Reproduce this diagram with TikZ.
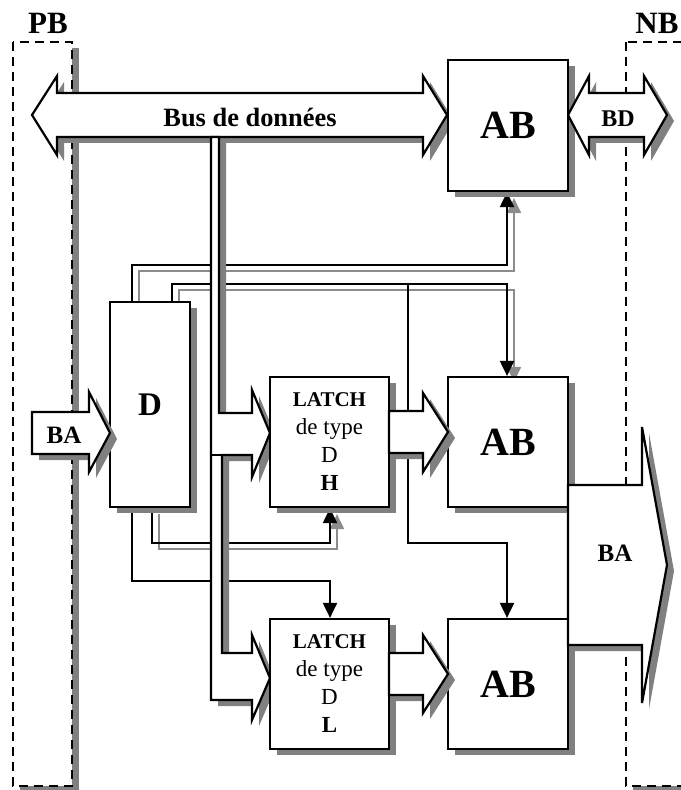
\documentclass[tikz,border=0pt]{standalone}
\usepackage{fontspec}
\setmainfont{Liberation Serif}
\usetikzlibrary{arrows.meta,shadows,backgrounds}

\tikzset{
  shdw/.style={drop shadow={shadow xshift=3.5pt,shadow yshift=-3pt,fill=gray,opacity=1}},
  blk/.style={draw,line width=1.1pt,fill=white,shdw},
  box/.style={blk,inner sep=0pt},
  zone/.style={draw,dash pattern=on 4.5pt off 3pt,line width=1.2pt,fill=white,shdw},
  wire/.style={line width=1pt,-{Triangle[width=7pt,length=7.5pt]}},
  wshd/.style={wire,gray!90,transform canvas={xshift=3.5pt,yshift=-3pt}},
  big/.style={font=\bfseries\fontsize{20}{24}\selectfont},
  lbl/.style={font=\bfseries\fontsize{12.5}{15}\selectfont}
}

\begin{document}
\begin{tikzpicture}[x=0.5pt,y=-0.5pt]
\useasboundingbox (0,0) rectangle (680,790);

% blocs
\node[box,minimum width=40pt,minimum height=102.5pt,font=\bfseries\fontsize{16.5}{20}\selectfont] (D) at (150,404.5) {D};
\node[box,minimum width=59.5pt,minimum height=65pt,align=center,font=\fontsize{11.5}{14}\selectfont] (latchH) at (329.5,442) {{\bfseries\fontsize{10.5}{14}\selectfont LATCH}\\de type\\D\\\textbf{H}};
\node[box,minimum width=59.5pt,minimum height=65pt,align=center,font=\fontsize{11.5}{14}\selectfont] (latchL) at (329.5,684) {{\bfseries\fontsize{10.5}{14}\selectfont LATCH}\\de type\\D\\\textbf{L}};
\node[box,big,minimum width=60pt,minimum height=65.5pt] (abTop) at (508,125.5) {AB};
\node[box,big,minimum width=60pt,minimum height=65pt] (abMid) at (508,442) {AB};
\node[box,big,minimum width=60pt,minimum height=65pt] (abBot) at (508,684) {AB};

% fleches larges
\draw[blk] (32,412) -- (89,412) -- (89,392) -- (110,433) -- (89,472) -- (89,454) -- (32,454) -- cycle;
\node[lbl] (baIn) at (64,435) {BA};
\draw[blk] (389,411) -- (423,411) -- (423,393) -- (448,432) -- (423,472) -- (423,453) -- (389,453) -- cycle;
\draw[blk] (389,653) -- (423,653) -- (423,635) -- (448,674) -- (423,713) -- (423,695) -- (389,695) -- cycle;
\draw[blk] (568,115) -- (589,76) -- (589,93) -- (644,93) -- (644,76) -- (667,115) -- (644,155) -- (644,137) -- (589,137) -- (589,155) -- cycle;
\node[lbl,font=\bfseries\fontsize{12}{15}\selectfont] (bd) at (618,119) {BD};
\draw[blk] (568,485) -- (642,485) -- (642,427) -- (667,565) -- (642,703) -- (642,645) -- (568,645) -- cycle;
\node[lbl] (baOut) at (615,553) {BA};

\begin{scope}[on background layer]
% zones
\draw[zone] (13,42) rectangle (72,786);
\draw[zone] (626,42) rectangle (720,786);
\node[font=\bfseries\fontsize{15.5}{18}\selectfont] (pb) at (48,23) {PB};
\node[font=\bfseries\fontsize{15.5}{18}\selectfont] (nb) at (657,23) {NB};

% commandes
\coordinate (w1) at (132,0);
\coordinate (w2) at (172,0);
\coordinate (w3) at (152,0);
\coordinate (w4) at (408,0);
\coordinate (w5) at (507,0);
\coordinate (w6) at (330,0);
\coordinate (h1) at (0,265);
\coordinate (h2) at (0,284);
\coordinate (h3) at (0,543);
\coordinate (h4) at (0,581);
\draw[wshd] (D.north -| w1) |- (h1 -| w5) -- (abTop.south -| w5);
\draw[wshd] (D.north -| w2) |- (h2 -| w5) -- (abMid.north -| w5);
\draw[wshd] (D.south -| w3) |- (h3 -| w6) -- (latchH.south -| w6);
\draw[wire] (D.north -| w1) |- (h1 -| w5) -- (abTop.south -| w5);
\draw[wire] (D.north -| w2) |- (h2 -| w5) -- (abMid.north -| w5);
\draw[wire] (h2 -| w4) |- (h3 -| w5) -- (abBot.north -| w5);
\draw[wire] (D.south -| w3) |- (h3 -| w6) -- (latchH.south -| w6);
\draw[wire] (D.south -| w1) |- (h4 -| w6) -- (latchL.north -| w6);

% bus de donnees
\draw[blk] (32,115) -- (57,76) -- (57,93) -- (423,93) -- (423,76) -- (447,115) -- (423,155) -- (423,137) -- (57,137) -- (57,155) -- cycle;
\node[font=\bfseries\fontsize{13.2}{16}\selectfont] (bus) at (250,117) {Bus de données};
\draw[blk] (211,137) -- (211,700) -- (252,700) -- (252,720) -- (270,678) -- (252,635) -- (252,653) -- (222,653) -- (222,455) -- (252,455) -- (252,477) -- (270,433) -- (252,390) -- (252,413) -- (219,413) -- (219,137) -- cycle;
\draw[line width=1.1pt] (211,455) -- (222,455);
\end{scope}
\end{tikzpicture}
\end{document}
